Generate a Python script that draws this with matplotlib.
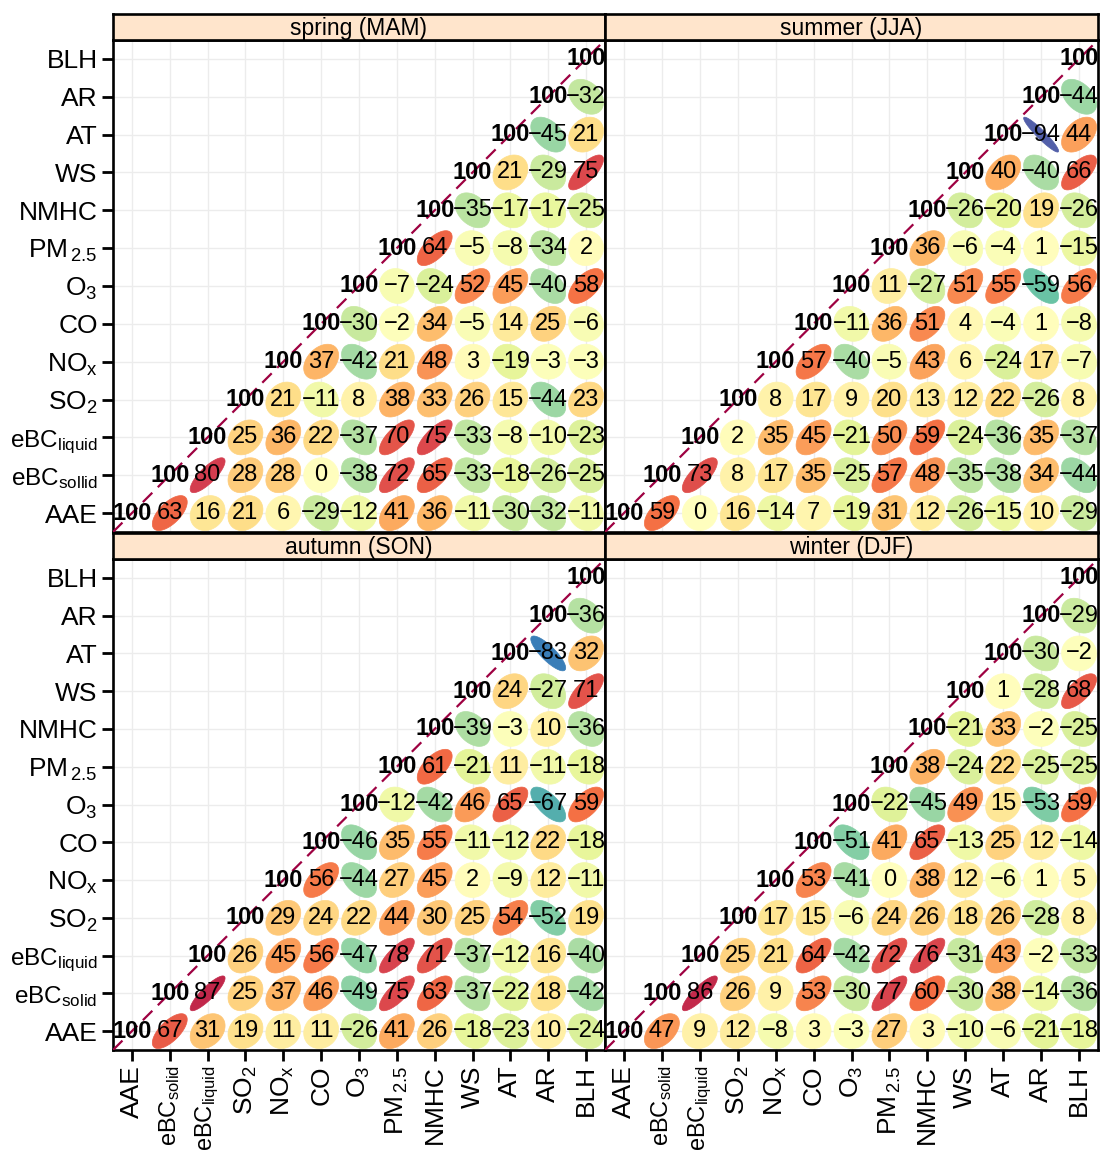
import numpy as np
import matplotlib
matplotlib.use('Agg')
import matplotlib.pyplot as plt
from matplotlib.patches import Polygon

plt.rcParams['font.family'] = 'Liberation Sans'
plt.rcParams['mathtext.fontset'] = 'custom'
plt.rcParams['mathtext.rm'] = 'Liberation Sans'
plt.rcParams['mathtext.it'] = 'Liberation Sans:italic'
plt.rcParams['mathtext.bf'] = 'Liberation Sans:bold'

LABELS = ['AAE', r'eBC$_{\mathrm{solid}}$', r'eBC$_{\mathrm{liquid}}$', r'SO$_{2}$',
          r'NO$_{\mathrm{x}}$', 'CO', r'O$_{3}$', r'PM$_{\,2.5}$', 'NMHC', 'WS', 'AT', 'AR', 'BLH']
# the spring panel in the original carries a typo in one label
LABELS_SPRING = LABELS[:1] + [r'eBC$_{\mathrm{sollid}}$'] + LABELS[2:]

SEASONS = ['spring (MAM)', 'summer (JJA)', 'autumn (SON)', 'winter (DJF)']

# upper triangle, one list per row (row variable = LABELS[i], columns i..12)
SPRING = [
    [100, 63, 16, 21, 6, -29, -12, 41, 36, -11, -30, -32, -11],
    [100, 80, 28, 28, 0, -38, 72, 65, -33, -18, -26, -25],
    [100, 25, 36, 22, -37, 70, 75, -33, -8, -10, -23],
    [100, 21, -11, 8, 38, 33, 26, 15, -44, 23],
    [100, 37, -42, 21, 48, 3, -19, -3, -3],
    [100, -30, -2, 34, -5, 14, 25, -6],
    [100, -7, -24, 52, 45, -40, 58],
    [100, 64, -5, -8, -34, 2],
    [100, -35, -17, -17, -25],
    [100, 21, -29, 75],
    [100, -45, 21],
    [100, -32],
    [100],
]
SUMMER = [
    [100, 59, 0, 16, -14, 7, -19, 31, 12, -26, -15, 10, -29],
    [100, 73, 8, 17, 35, -25, 57, 48, -35, -38, 34, -44],
    [100, 2, 35, 45, -21, 50, 59, -24, -36, 35, -37],
    [100, 8, 17, 9, 20, 13, 12, 22, -26, 8],
    [100, 57, -40, -5, 43, 6, -24, 17, -7],
    [100, -11, 36, 51, 4, -4, 1, -8],
    [100, 11, -27, 51, 55, -59, 56],
    [100, 36, -6, -4, 1, -15],
    [100, -26, -20, 19, -26],
    [100, 40, -40, 66],
    [100, -94, 44],
    [100, -44],
    [100],
]
AUTUMN = [
    [100, 67, 31, 19, 11, 11, -26, 41, 26, -18, -23, 10, -24],
    [100, 87, 25, 37, 46, -49, 75, 63, -37, -22, 18, -42],
    [100, 26, 45, 56, -47, 78, 71, -37, -12, 16, -40],
    [100, 29, 24, 22, 44, 30, 25, 54, -52, 19],
    [100, 56, -44, 27, 45, 2, -9, 12, -11],
    [100, -46, 35, 55, -11, -12, 22, -18],
    [100, -12, -42, 46, 65, -67, 59],
    [100, 61, -21, 11, -11, -18],
    [100, -39, -3, 10, -36],
    [100, 24, -27, 71],
    [100, -83, 32],
    [100, -36],
    [100],
]
WINTER = [
    [100, 47, 9, 12, -8, 3, -3, 27, 3, -10, -6, -21, -18],
    [100, 86, 26, 9, 53, -30, 77, 60, -30, 38, -14, -36],
    [100, 25, 21, 64, -42, 72, 76, -31, 43, -2, -33],
    [100, 17, 15, -6, 24, 26, 18, 26, -28, 8],
    [100, 53, -41, 0, 38, 12, -6, 1, 5],
    [100, -51, 41, 65, -13, 25, 12, -14],
    [100, -22, -45, 49, 15, -53, 59],
    [100, 38, -24, 22, -25, -25],
    [100, -21, 33, -2, -25],
    [100, 1, -28, 68],
    [100, -30, -2],
    [100, -29],
    [100],
]

W, H = 1105, 1158
cmap = plt.get_cmap('Spectral_r')
T = np.sqrt(-2 * np.log(0.1))  # sqrt(qchisq(0.9, 2))


def ellipse_xy(r, cx, cy, scale=0.215, n=60):
    d = np.arccos(np.clip(r, -0.999, 0.999))
    a = np.linspace(0, 2 * np.pi, n)
    return np.column_stack([cx + T * scale * np.cos(a + d / 2),
                            cy + T * scale * np.cos(a - d / 2)])


def px_axes(fig, x0, y0, x1, y1):
    return fig.add_axes([x0 / W, 1 - y1 / H, (x1 - x0) / W, (y1 - y0) / H])


def fmt(v):
    return str(v).replace('-', '\u2212')


def draw_panel(ax, rows, ylabels, show_y, show_x):
    n = len(LABELS)
    pos = np.arange(1, n + 1)
    ax.set_xlim(0.5, n + 0.5)
    ax.set_ylim(0.5, n + 0.5)
    ax.set_xticks(pos)
    ax.set_yticks(pos)
    ax.grid(True, color='#ececec', lw=1.0, zorder=0)
    ax.set_axisbelow(True)
    for i, row in enumerate(rows):
        for k, v in enumerate(row):
            j = i + k
            x, y = pos[j], pos[i]
            if i == j:
                ax.text(x, y, fmt(v), ha='center', va='center', fontsize=17,
                        fontweight='bold', zorder=5)
                continue
            r = v / 100.0
            col = cmap((r + 1) / 2)
            ax.add_patch(Polygon(ellipse_xy(r, x, y), closed=True, facecolor=col,
                                 edgecolor=col, lw=0.5, zorder=2))
            ax.text(x, y, fmt(v), ha='center', va='center', fontsize=17, zorder=5)
    ax.plot([0.5, n + 0.5], [0.5, n + 0.5], color='#9E0142', lw=1.6,
            ls=(0, (6, 3.5)), zorder=4)
    for s in ax.spines.values():
        s.set_linewidth(1.9)
    ax.tick_params(axis='both', direction='out', length=8, width=2, pad=3,
                   labelsize=19, top=False, right=False)
    if show_y:
        ax.set_yticklabels(ylabels)
        for lab in ax.get_yticklabels()[1:3]:
            lab.set_fontsize(17.5)
    else:
        ax.tick_params(axis='y', left=False, labelleft=False)
    if show_x:
        ax.set_xticklabels(LABELS, rotation=90, va='top', ha='center')
        # the two long eBC labels are set a little smaller so they fit
        for lab in ax.get_xticklabels()[1:3]:
            lab.set_fontsize(17)
    else:
        ax.tick_params(axis='x', bottom=False, labelbottom=False)


def draw_strip(ax, title):
    ax.set_facecolor('#FFE5CC')
    ax.set_xticks([])
    ax.set_yticks([])
    for s in ax.spines.values():
        s.set_linewidth(1.9)
    ax.text(0.5, 0.45, title, ha='center', va='center', fontsize=16.5,
            transform=ax.transAxes)


fig = plt.figure(figsize=(W / 100, H / 100), dpi=100)

panels = [
    (SPRING, SEASONS[0], (113, 40, 605, 532), LABELS_SPRING, True, False),
    (SUMMER, SEASONS[1], (605, 40, 1098, 532), LABELS, False, False),
    (AUTUMN, SEASONS[2], (113, 559, 605, 1050), LABELS, True, True),
    (WINTER, SEASONS[3], (605, 559, 1098, 1050), LABELS, False, True),
]

for rows, title, (x0, y0, x1, y1), ylabels, show_y, show_x in panels:
    ax = px_axes(fig, x0, y0, x1, y1)
    draw_panel(ax, rows, ylabels, show_y, show_x)
    sax = px_axes(fig, x0, y0 - 26, x1, y0)
    draw_strip(sax, title)

fig.savefig('out.png', dpi=100)
